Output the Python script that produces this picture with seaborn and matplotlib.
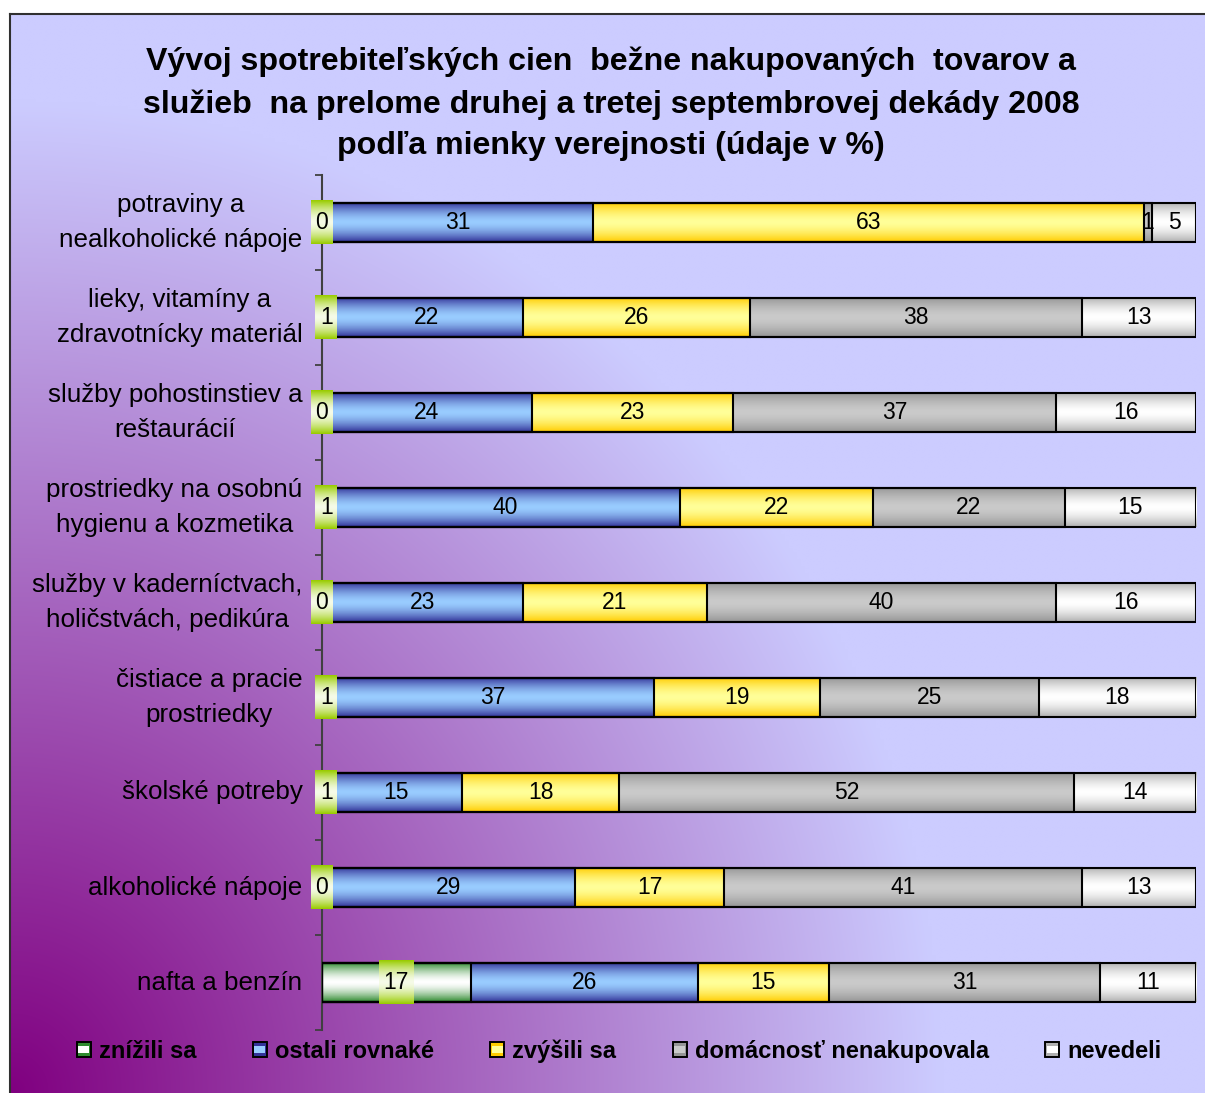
import numpy as np
import matplotlib
matplotlib.use("Agg")
import matplotlib.pyplot as plt
import seaborn as sns
from matplotlib.patches import Patch, Rectangle
from matplotlib.lines import Line2D
from matplotlib.colors import to_rgb
from matplotlib.legend_handler import HandlerBase

plt.rcParams["font.family"] = ["Liberation Sans", "DejaVu Sans"]

# ---------------- data ----------------
categories = [
    "potraviny a\nnealkoholické nápoje",
    "lieky, vitamíny a\nzdravotnícky materiál",
    "služby pohostinstiev a\nreštaurácií",
    "prostriedky na osobnú\nhygienu a kozmetika",
    "služby v kaderníctvach,\nholičstvách, pedikúra",
    "čistiace a pracie\nprostriedky",
    "školské potreby",
    "alkoholické nápoje",
    "nafta a benzín",
]
series_names = ["znížili sa", "ostali rovnaké", "zvýšili sa",
                "domácnosť nenakupovala", "nevedeli"]
znizili = [0, 1, 0, 1, 0, 1, 1, 0, 17]
ostali = [31, 22, 24, 40, 23, 37, 15, 29, 26]
zvysili = [63, 26, 23, 22, 21, 19, 18, 17, 15]
nenakupovala = [1, 38, 37, 22, 40, 25, 52, 41, 31]
nevedeli = [5, 13, 16, 15, 16, 18, 14, 13, 11]
title = ("Vývoj spotrebiteľských cien  bežne nakupovaných  tovarov a\n"
         "služieb  na prelome druhej a tretej septembrovej dekády 2008\n"
         "podľa mienky verejnosti (údaje v %)")

series = [znizili, ostali, zvysili, nenakupovala, nevedeli]
# (edge colour, centre colour) of each series' gradient
grad_colors = [("#2f8a2f", "#ffffff"),
               ("#333399", "#99ccff"),
               ("#ffcc00", "#ffff99"),
               ("#969696", "#cacaca"),
               ("#b0b0b0", "#ffffff")]
label_box_colors = ("#99cc00", "#f6fbe8")

W, H = 1205, 1093
fig = plt.figure(figsize=(W / 100, H / 100), dpi=100)
fig.patch.set_facecolor("white")


def vgrad(edge, center, n=64, power=1.6):
    s = np.linspace(0, 1, n)
    d = np.abs(2 * s - 1) ** power
    e = np.array(to_rgb(edge))
    c = np.array(to_rgb(center))
    img = c[None, :] + (e - c)[None, :] * d[:, None]
    return img[:, None, :]


# ---------------- background frame with gradient ----------------
bg = fig.add_axes([10 / W, 0, 1 - 10 / W, 1 - 14 / H], zorder=-5)
gu = np.linspace(0, 1, 300)[None, :]
gv = np.linspace(0, 1, 300)[:, None]
t = np.clip(np.sqrt((gu / 0.78) ** 2 + (gv / 0.92) ** 2), 0, 1)
purple = np.array(to_rgb("#800080"))
lav = np.array(to_rgb("#ccccff"))
bgimg = purple[None, None, :] + (lav - purple)[None, None, :] * t[:, :, None]
bg.imshow(bgimg, extent=(0, 1, 0, 1), origin="lower", aspect="auto",
          interpolation="bilinear")
bg.set_axis_off()
fig.add_artist(Line2D([10 / W, 10 / W], [0, 1 - 14 / H], transform=fig.transFigure,
                      color="#303030", lw=1.5))
fig.add_artist(Line2D([10 / W, 1], [1 - 14 / H, 1 - 14 / H], transform=fig.transFigure,
                      color="#303030", lw=1.5))

# ---------------- main axes ----------------
ax = fig.add_axes([322 / W, 63 / H, 874 / W, (1030 - 175) / H], zorder=1)
ax.patch.set_alpha(0)

cum = np.cumsum(np.array(series, dtype=float), axis=0)
patches_by_series = {}
for k in reversed(range(len(series))):
    n0 = len(ax.patches)
    sns.barplot(x=cum[k], y=categories, orient="h", width=0.42, color="white",
                errorbar=None, ax=ax)
    patches_by_series[k] = ax.patches[n0:]

for p in ax.patches:
    p.set_facecolor("none")
    p.set_edgecolor("black")
    p.set_linewidth(1.5)
    p.set_zorder(3)

green_texts = []
for k in range(len(series)):
    edge, center = grad_colors[k]
    img = vgrad(edge, center)
    for i, p in enumerate(patches_by_series[k]):
        left = cum[k - 1][i] if k > 0 else 0.0
        right = cum[k][i]
        y0 = p.get_y()
        h = p.get_height()
        if right > left:
            ax.imshow(img, extent=(left, right, y0 + h, y0), aspect="auto",
                      interpolation="bilinear", zorder=2)
        txt = ax.text((left + right) / 2, y0 + h / 2, f"{series[k][i]:g}",
                      ha="center", va="center", fontsize=16.5, color="black",
                      zorder=7)
        if k == 0:
            green_texts.append((txt, y0 + h / 2, h))

ax.set_xlim(0, 100)
ax.set_ylim(len(categories) - 0.5, -0.5)
ax.set_xlabel("")
ax.set_ylabel("")
ax.set_xticks([])
for side in ["top", "right", "bottom"]:
    ax.spines[side].set_visible(False)
ax.spines["left"].set_color("#404040")
ax.spines["left"].set_linewidth(1.5)
ax.set_yticks(np.arange(-0.5, len(categories), 1.0), minor=True)
ax.tick_params(axis="y", which="major", length=0, pad=14, labelsize=18.7)
ax.tick_params(axis="y", which="minor", length=5, width=1.3, color="#404040")
for lbl in ax.get_yticklabels():
    lbl.set_multialignment("center")
    lbl.set_linespacing(1.57)
    lbl.set_verticalalignment("center")

# green label boxes sized to text
fig.canvas.draw()
r = fig.canvas.get_renderer()
inv = ax.transData.inverted()
box_img = vgrad(*label_box_colors)
for txt, yc, h in green_texts:
    bb = txt.get_window_extent(r)
    (x0d, _), (x1d, _) = inv.transform([(bb.x0 - 4.5, 0), (bb.x1 + 4.5, 0)])
    hh = h * 1.1
    im = ax.imshow(box_img, extent=(x0d, x1d, yc + hh / 2, yc - hh / 2),
                   aspect="auto", interpolation="bilinear", zorder=5)
    im.set_clip_on(False)
ax.set_xlim(0, 100)
ax.set_ylim(len(categories) - 0.5, -0.5)

# ---------------- title ----------------
fig.text(611 / W, 1 - 104 / H, title, ha="center", va="center", fontsize=23.1,
         fontweight="bold", linespacing=1.5)


# ---------------- legend ----------------
class GradHandler(HandlerBase):
    def create_artists(self, legend, orig_handle, xdescent, ydescent,
                       width, height, fontsize, trans):
        edge, center = orig_handle.grad
        outer = Rectangle((-xdescent, -ydescent), width, height,
                          facecolor=edge, edgecolor="black", lw=1.2,
                          transform=trans)
        inner = Rectangle((-xdescent + 1, -ydescent + height * 0.28),
                          width - 2, height * 0.44, facecolor=center,
                          edgecolor="none", transform=trans)
        frame = Rectangle((-xdescent, -ydescent), width, height,
                          facecolor="none", edgecolor="black", lw=1.2,
                          transform=trans)
        return [outer, inner, frame]


handles = []
for k, name in enumerate(series_names):
    hp = Patch(label=name)
    hp.grad = grad_colors[k]
    handles.append(hp)

fs_leg = 17
px = fs_leg * 100 / 72
fig.legend(handles=handles, labels=series_names, loc="center",
           bbox_to_anchor=(619 / W, 42 / H), ncol=5, frameon=False,
           prop={"size": fs_leg, "weight": "bold"},
           handlelength=14 / px, handleheight=14 / px,
           handletextpad=8 / px, columnspacing=56.5 / px, borderpad=0,
           handler_map={Patch: GradHandler()})

fig.savefig("out.png", dpi=100)
